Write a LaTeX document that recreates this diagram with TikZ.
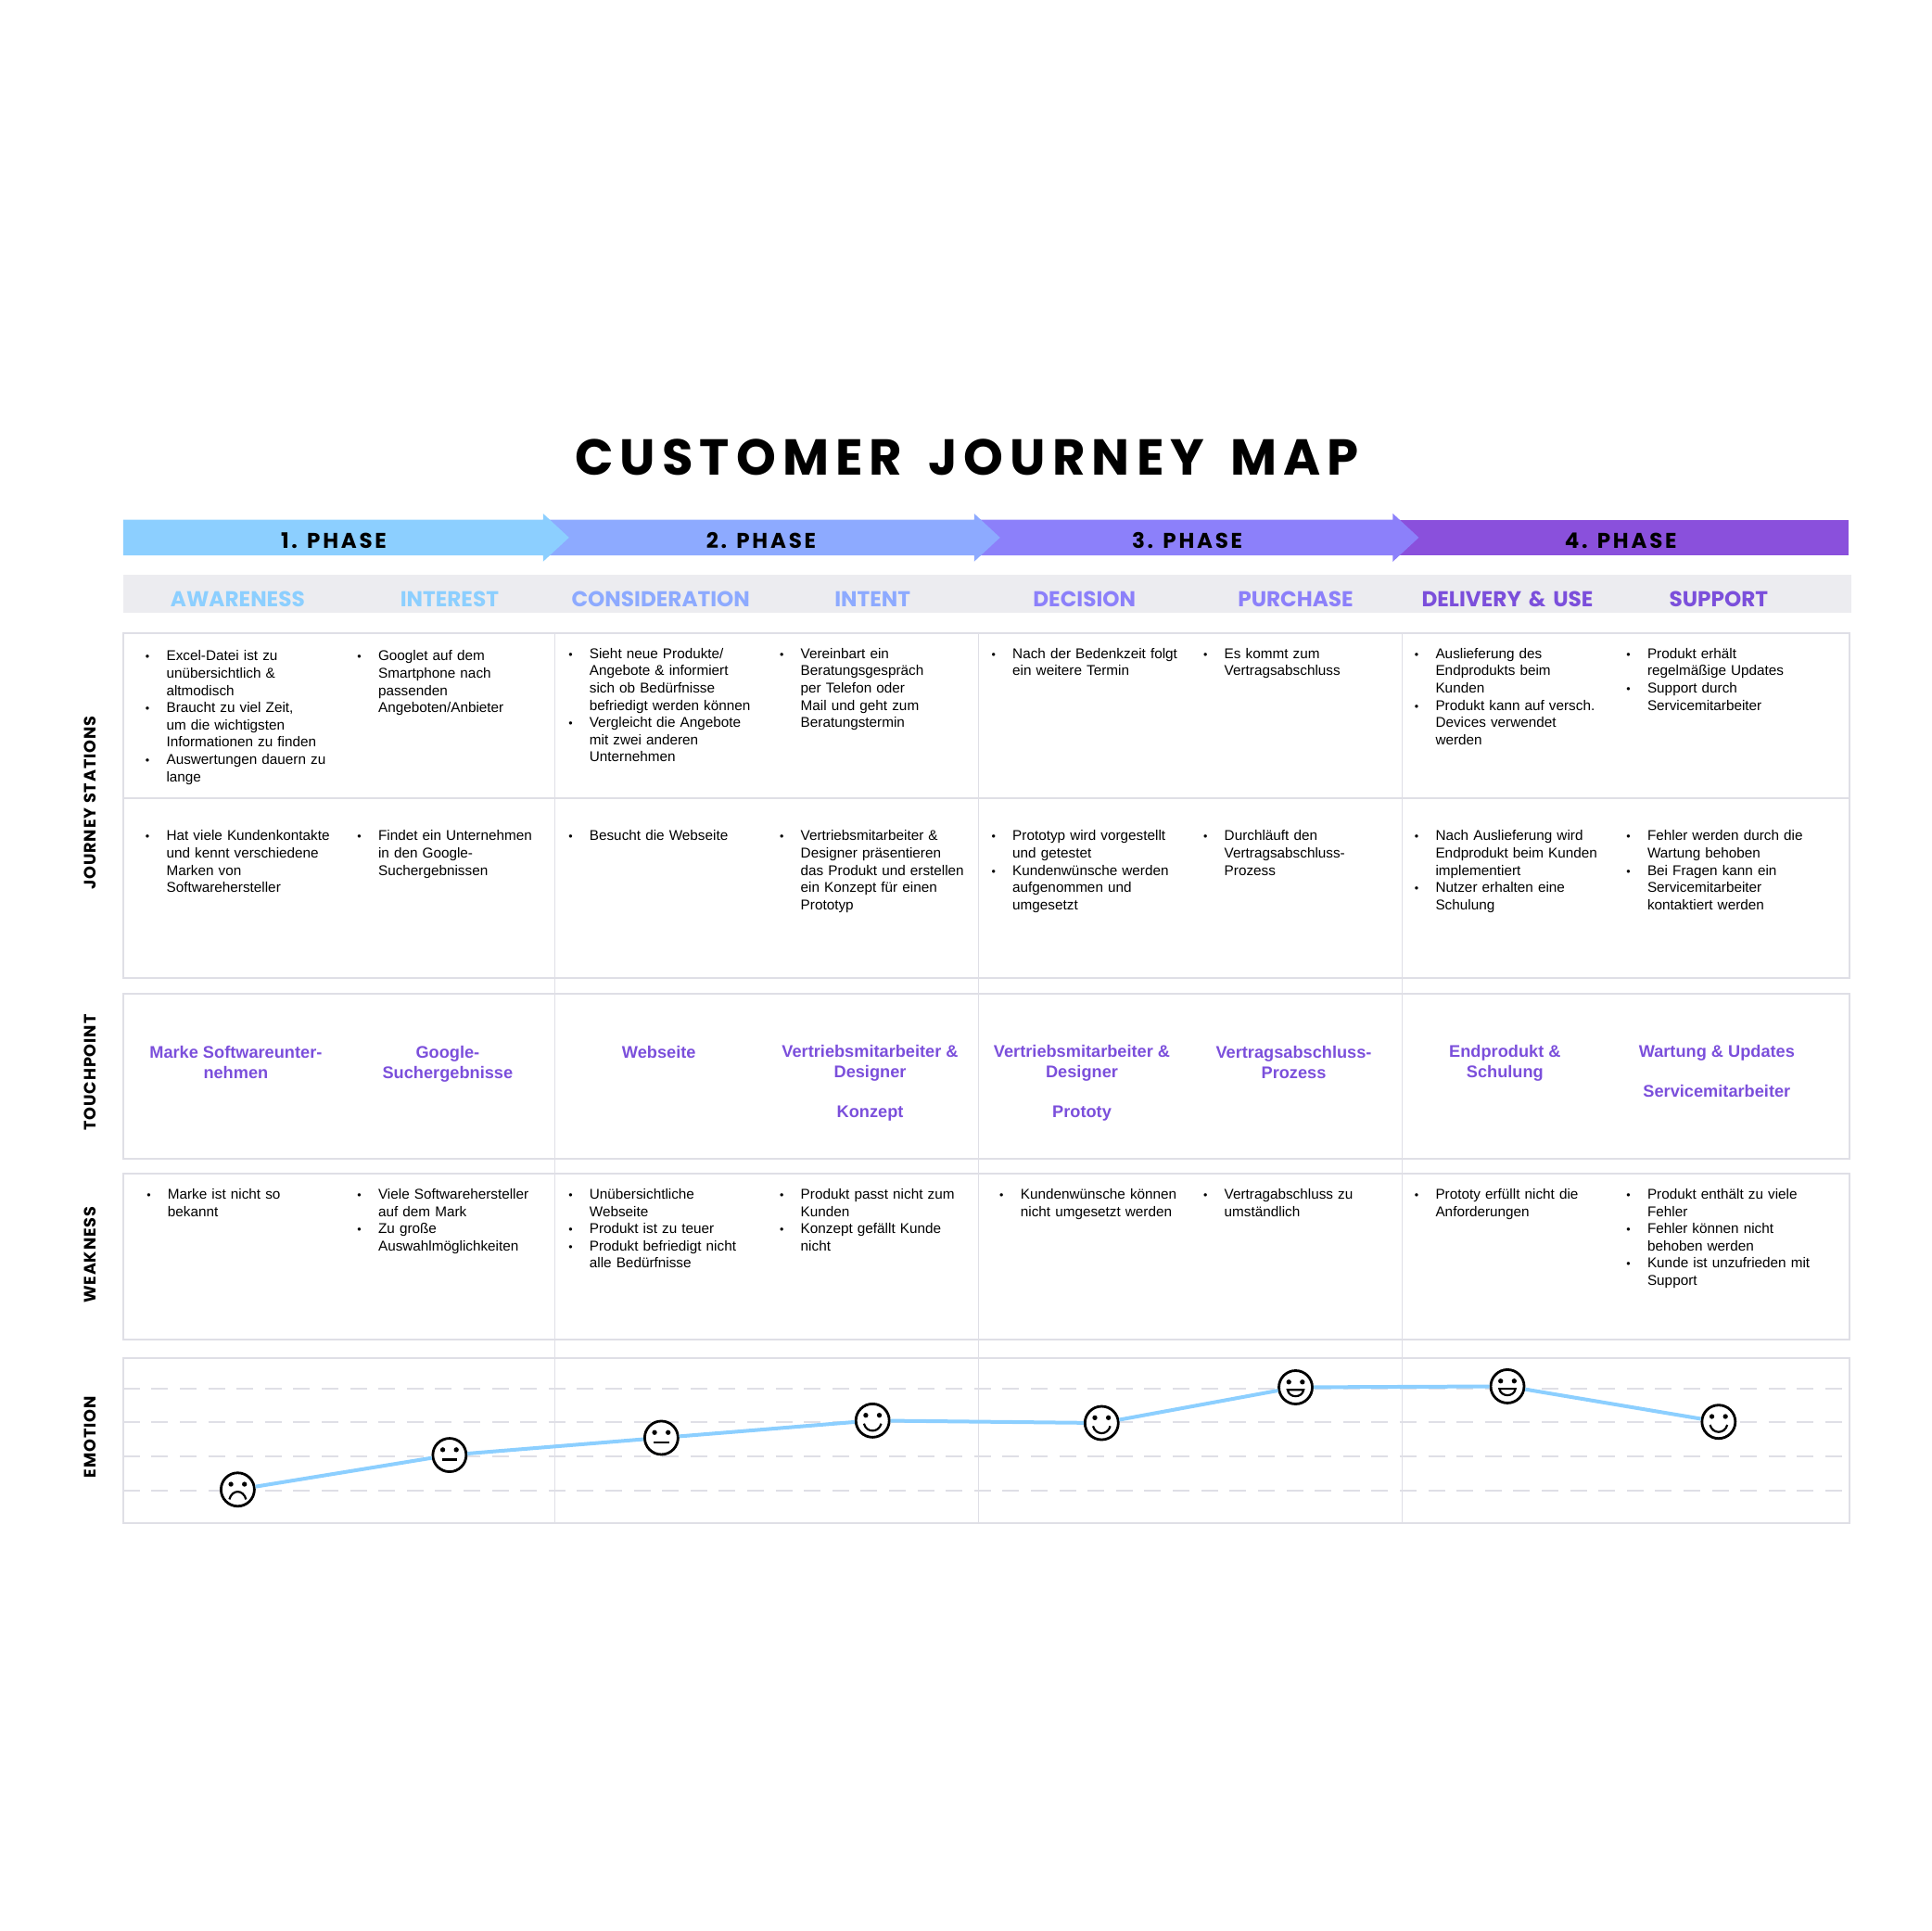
\documentclass[tikz,border=0pt]{standalone}
\usepackage{fontspec,xcolor,enumitem}
\usepackage{tikz}
\usetikzlibrary{arrows.meta,positioning}
\setmainfont{Liberation Sans}
\newfontfamily\titlefont[LetterSpace=13,WordSpace=1.5]{Poppins}
\newfontfamily\phasefont[LetterSpace=12]{Poppins}
\newfontfamily\headfont[WordSpace=1.6]{Poppins}
\newfontfamily\sidefont[LetterSpace=5]{Poppins}
\setlist[itemize]{nosep,leftmargin=22.6pt,labelwidth=10pt,labelsep=12.6pt,align=left,label={\fontsize{12.5}{10}\selectfont\textbullet}}
\definecolor{phaseA}{HTML}{8CCFFF}
\definecolor{phaseB}{HTML}{8DAAFF}
\definecolor{phaseC}{HTML}{8C80FA}
\definecolor{phaseD}{HTML}{8A50DC}
\definecolor{gridline}{HTML}{DFDFE6}
\definecolor{bandgray}{HTML}{ECECF0}
\definecolor{touch}{HTML}{7B4FDB}

\begin{document}
\begin{tikzpicture}[
  x=1.3284pt,y=-1.3284pt,
  phasebar/.style={fill=#1,draw=none},
  phaselabel/.style={font=\phasefont\bfseries\fontsize{23}{26}\selectfont,inner sep=0},
  station/.style={font=\headfont\bfseries\fontsize{23.2}{26}\selectfont,text=#1,inner sep=0},
  sidelabel/.style={font=\sidefont\bfseries\fontsize{17.7}{20}\selectfont,rotate=90,inner sep=0},
  cell/.style={anchor=north west,inner sep=0,align=left,text width=215pt,font=\fontsize{15.3}{18.6}\selectfont},
  touchtext/.style={align=center,inner sep=0,anchor=north,text=touch,font=\bfseries\fontsize{18.2}{21.6}\selectfont},
  gridbox/.style={draw=gridline,line width=2pt},
  gridsplit/.style={draw=gridline,line width=1.5pt},
  moodgrid/.style={draw=gridline,line width=1.8pt,dash pattern=on 18pt off 12.6pt},
  moodline/.style={draw=phaseA,line width=4pt},
  face/.style={circle,draw=black,line width=2.8pt,fill=white,minimum size=36pt,inner sep=0},
  eyes/.pic={\fill (-5.5,-4.3) circle (2) (5.5,-4.3) circle (2);},
  sadface/.pic={\pic {eyes}; \draw[line width=2.2pt] (-6.8,8) .. controls (-4.5,-0.3) and (4.5,-0.3) .. (6.8,8);},
  flatface/.pic={\pic {eyes}; \draw[line width=2.8pt] (-6.2,3.8) -- (6.2,3.8);},
  smileface/.pic={\pic {eyes}; \draw[line width=2.2pt] (-7,2.5) .. controls (-5,10.2) and (5,10.2) .. (7,2.5);},
  laughface/.pic={\pic {eyes}; \draw[line width=2.2pt,fill=white] (-6.5,2) -- (6.5,2) .. controls (5.5,9) and (-5.5,9) .. (-6.5,2) -- cycle;}
]
\useasboundingbox (0,0) rectangle (1568,1568);

% title
\node[font=\titlefont\bfseries\fontsize{54.5}{60}\selectfont,inner sep=0] (title) at (785,371) {CUSTOMER JOURNEY MAP};

% phases
\fill[phasebar=phaseD] (1131,422) rectangle (1501,451);
\fill[phasebar=phaseC] (791,422) -- (1131,422) -- (1131,417) -- (1152,436.5) -- (1131,456) -- (1131,451) -- (791,451) -- cycle;
\fill[phasebar=phaseB] (441,422) -- (791,422) -- (791,417) -- (812,436.5) -- (791,456) -- (791,451) -- (441,451) -- cycle;
\fill[phasebar=phaseA] (100,422) -- (441,422) -- (441,417) -- (462,436.5) -- (441,456) -- (441,451) -- (100,451) -- cycle;
\node[phaselabel] (phaseone) at (271,439) {1. PHASE};
\node[phaselabel] (phasetwo) at (618,439) {2. PHASE};
\node[phaselabel] (phasethree) at (964,439) {3. PHASE};
\node[phaselabel] (phasefour) at (1316,439) {4. PHASE};

% stations
\fill[bandgray] (100,467) rectangle (1503,497.5);
\node[station=phaseA] (awareness) at (193,486.5) {AWARENESS};
\node[station=phaseA] (interest) at (365,486.5) {INTEREST};
\node[station=phaseB] (consideration) at (536.5,486.5) {CONSIDERATION};
\node[station=phaseB] (intent) at (708.5,486.5) {INTENT};
\node[station=phaseC] (decision) at (880.5,486.5) {DECISION};
\node[station=phaseC] (purchase) at (1052,486.5) {PURCHASE};
\node[station=touch] (delivery) at (1224,486.5) {DELIVERY \& USE};
\node[station=touch] (support) at (1395.5,486.5) {SUPPORT};

% grid
\draw[gridbox] (100,514) rectangle (1501.5,648);
\draw[gridbox] (100,648) rectangle (1501.5,794.5);
\draw[gridbox] (100,807) rectangle (1501.5,941);
\draw[gridbox] (100,953) rectangle (1501.5,1087.5);
\draw[gridbox] (100,1102.5) rectangle (1501.5,1236.5);
\foreach \x in {450.5,794.5,1138.5}
  \draw[gridsplit] (\x,514) -- (\x,1236.5);

% side labels
\node[sidelabel] (journey) at (73,652) {JOURNEY STATIONS};
\node[sidelabel] (touchpoint) at (73,871) {TOUCHPOINT};
\node[sidelabel] (weakness) at (73,1019) {WEAKNESS};
\node[sidelabel] (emotion) at (73,1167) {EMOTION};

% first row
\node[cell] (ja) at (118,522.5) {\begin{itemize}\item Excel-Datei ist zu\\unübersichtlich \&\\altmodisch\item Braucht zu viel Zeit,\\um die wichtigsten\\Informationen zu finden\item Auswertungen dauern zu\\lange\end{itemize}};
\node[cell] (jb) at (290,522.5) {\begin{itemize}\item Googlet auf dem\\Smartphone nach\\passenden\\Angeboten/Anbieter\end{itemize}};
\node[cell] (jc) at (461.5,520.5) {\begin{itemize}\item Sieht neue Produkte/\\Angebote \& informiert\\sich ob Bedürfnisse\\befriedigt werden können\item Vergleicht die Angebote\\mit zwei anderen\\Unternehmen\end{itemize}};
\node[cell] (jd) at (633,520.5) {\begin{itemize}\item Vereinbart ein\\Beratungsgespräch\\per Telefon oder\\Mail und geht zum\\Beratungstermin\end{itemize}};
\node[cell] (je) at (805,520.5) {\begin{itemize}\item Nach der Bedenkzeit folgt\\ein weitere Termin\end{itemize}};
\node[cell] (jf) at (977,520.5) {\begin{itemize}\item Es kommt zum\\Vertragsabschluss\end{itemize}};
\node[cell] (jg) at (1148.5,520.5) {\begin{itemize}\item Auslieferung des\\Endprodukts beim\\Kunden\item Produkt kann auf versch.\\Devices verwendet\\werden\end{itemize}};
\node[cell] (jh) at (1320.5,520.5) {\begin{itemize}\item Produkt erhält\\regelmäßige Updates\item Support durch\\Servicemitarbeiter\end{itemize}};

% second row
\node[cell] (ka) at (118,668.5) {\begin{itemize}\item Hat viele Kundenkontakte\\und kennt verschiedene\\Marken von\\Softwarehersteller\end{itemize}};
\node[cell] (kb) at (290,668.5) {\begin{itemize}\item Findet ein Unternehmen\\in den Google-\\Suchergebnissen\end{itemize}};
\node[cell] (kc) at (461.5,668.5) {\begin{itemize}\item Besucht die Webseite\end{itemize}};
\node[cell] (kd) at (633,668.5) {\begin{itemize}\item Vertriebsmitarbeiter \&\\Designer präsentieren\\das Produkt und erstellen\\ein Konzept für einen\\Prototyp\end{itemize}};
\node[cell] (ke) at (805,668.5) {\begin{itemize}\item Prototyp wird vorgestellt\\und getestet\item Kundenwünsche werden\\aufgenommen und\\umgesetzt\end{itemize}};
\node[cell] (kf) at (977,668.5) {\begin{itemize}\item Durchläuft den\\Vertragsabschluss-\\Prozess\end{itemize}};
\node[cell] (kg) at (1148.5,668.5) {\begin{itemize}\item Nach Auslieferung wird\\Endprodukt beim Kunden\\implementiert\item Nutzer erhalten eine\\Schulung\end{itemize}};
\node[cell] (kh) at (1320.5,668.5) {\begin{itemize}\item Fehler werden durch die\\Wartung behoben\item Bei Fragen kann ein\\Servicemitarbeiter\\kontaktiert werden\end{itemize}};

% touchpoints
\node[touchtext] (ta) at (191.5,849.5) {Marke Softwareunter-\\nehmen};
\node[touchtext] (tb) at (363.5,849.5) {Google-\\Suchergebnisse};
\node[touchtext] (tc) at (535,849.5) {Webseite};
\node[touchtext] (td) at (706.5,848.5) {Vertriebsmitarbeiter \&\\Designer\\[21.6pt]Konzept};
\node[touchtext] (te) at (878.5,848.5) {Vertriebsmitarbeiter \&\\Designer\\[21.6pt]Prototy};
\node[touchtext] (tf) at (1050.5,849.5) {Vertragsabschluss-\\Prozess};
\node[touchtext] (tg) at (1222,848.5) {Endprodukt \&\\Schulung};
\node[touchtext] (th) at (1394,848.5) {Wartung \& Updates\\[21.6pt]Servicemitarbeiter};

% weakness
\node[cell] (wa) at (119,959.5) {\begin{itemize}\item Marke ist nicht so\\bekannt\end{itemize}};
\node[cell] (wb) at (290,959.5) {\begin{itemize}\item Viele Softwarehersteller\\auf dem Mark\item Zu große\\Auswahlmöglichkeiten\end{itemize}};
\node[cell] (wc) at (461.5,959.5) {\begin{itemize}\item Unübersichtliche\\Webseite\item Produkt ist zu teuer\item Produkt befriedigt nicht\\alle Bedürfnisse\end{itemize}};
\node[cell] (wd) at (633,959.5) {\begin{itemize}\item Produkt passt nicht zum\\Kunden\item Konzept gefällt Kunde\\nicht\end{itemize}};
\node[cell] (we) at (811.5,959.5) {\begin{itemize}\item Kundenwünsche können\\nicht umgesetzt werden\end{itemize}};
\node[cell] (wf) at (977,959.5) {\begin{itemize}\item Vertragabschluss zu\\umständlich\end{itemize}};
\node[cell] (wg) at (1148.5,959.5) {\begin{itemize}\item Prototy erfüllt nicht die\\Anforderungen\end{itemize}};
\node[cell] (wh) at (1320.5,959.5) {\begin{itemize}\item Produkt enthält zu viele\\Fehler\item Fehler können nicht\\behoben werden\item Kunde ist unzufrieden mit\\Support\end{itemize}};

% emotion
\foreach \y in {1127.5,1154.5,1182.5,1210.5}
  \draw[moodgrid] (100,\y) -- (1500,\y);
\foreach \nm/\x/\y/\kind in {fa/193/1209.5/sadface,fb/365/1181.5/flatface,fc/537/1167.5/flatface,fd/708.5/1153.5/smileface,fe/894.5/1155.5/smileface,ff/1052/1126.5/laughface,fg/1224/1125.7/laughface,fh/1395.5/1154.5/smileface}{
  \node[face] (\nm) at (\x,\y) {};
  \pic at (\x,\y) {\kind};
}
\draw[moodline] (fa) -- (fb);
\draw[moodline] (fb) -- (fc);
\draw[moodline] (fc) -- (fd);
\draw[moodline] (fd) -- (fe);
\draw[moodline] (fe) -- (ff);
\draw[moodline] (ff) -- (fg);
\draw[moodline] (fg) -- (fh);
\end{tikzpicture}
\end{document}
